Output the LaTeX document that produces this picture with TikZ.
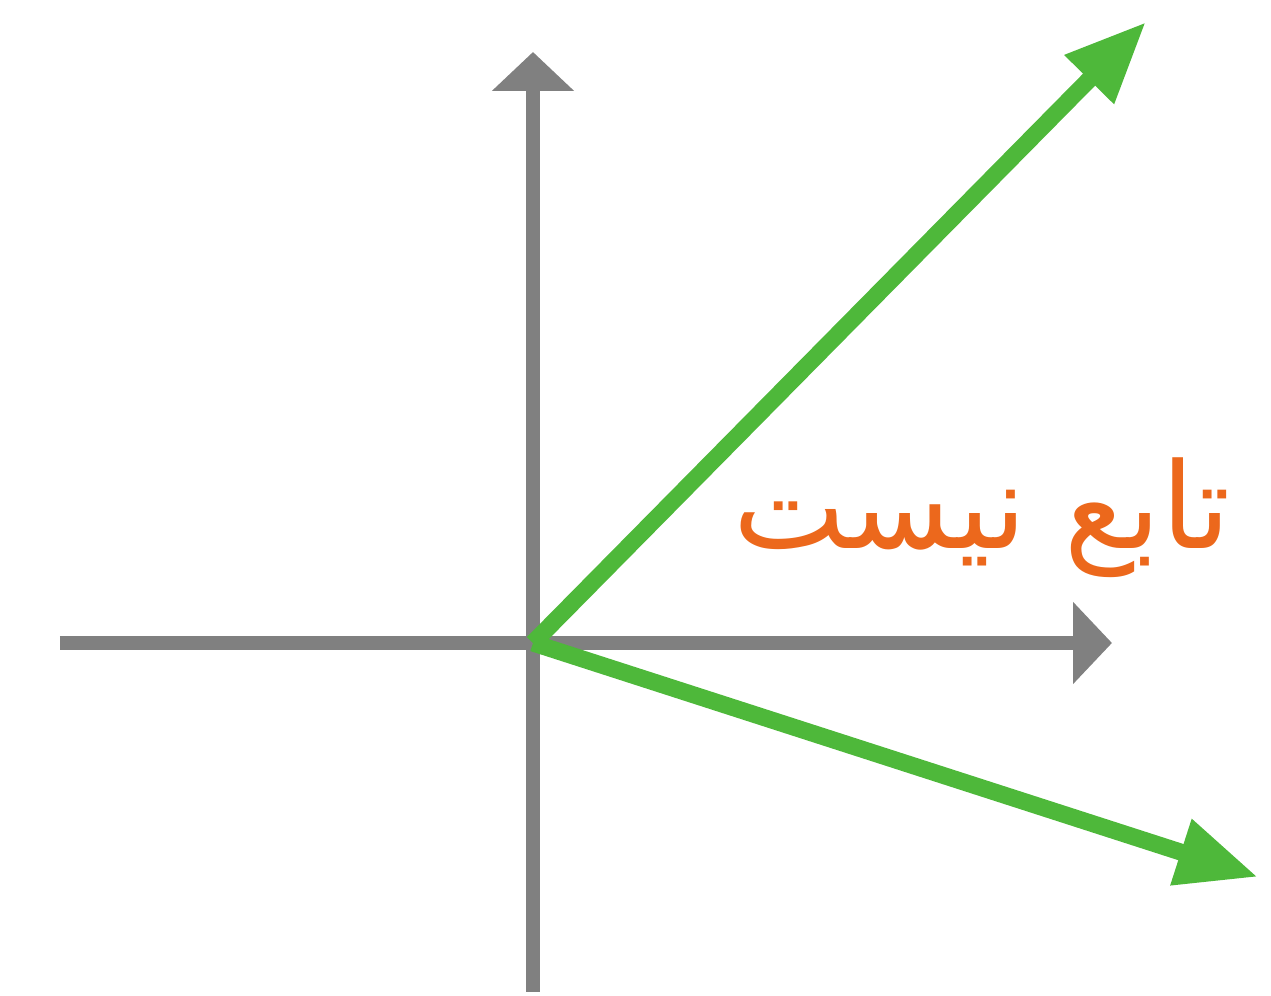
\documentclass[tikz,border=0pt]{standalone}
\usepackage{fontspec}
\newfontfamily\arabicfont[Script=Arabic]{DejaVu Sans}
\TeXXeTstate=1
\usetikzlibrary{arrows.meta}
\definecolor{axisgray}{RGB}{128,128,128}
\definecolor{vecgreen}{RGB}{78,184,58}
\definecolor{txtorange}{RGB}{236,104,28}
\tikzset{
  axis/.style={axisgray,line width=0.29cm,-{Triangle[length=0.78cm,width=1.6cm]}},
  vector/.style={vecgreen,line width=0.34cm,-{Triangle[length=1.62cm,width=1.3cm]}}
}

\begin{document}
\begin{tikzpicture}
    \useasboundingbox (-10.66,-7.06) rectangle (14.76,12.86);
    % axes
    \coordinate (O) at (0,0);
    \coordinate (xl) at (-9.46,0);
    \coordinate (xr) at (11.58,0);
    \coordinate (yb) at (0,-6.98);
    \coordinate (yt) at (0,11.82);
    \draw[axis] (xl) -- (xr);
    \draw[axis] (yb) -- (yt);
    % two images of one point
    \coordinate (up) at (12.26,12.42);
    \coordinate (down) at (14.5,-4.68);
    \draw[vector] (O) -- (up);
    \draw[vector] (O) -- (down);
    \node[txtorange,font=\fontsize{68}{74}\selectfont] (label) at (8.98,2.5) {\arabicfont\beginR تابع نیست\endR};
\end{tikzpicture}
\end{document}
